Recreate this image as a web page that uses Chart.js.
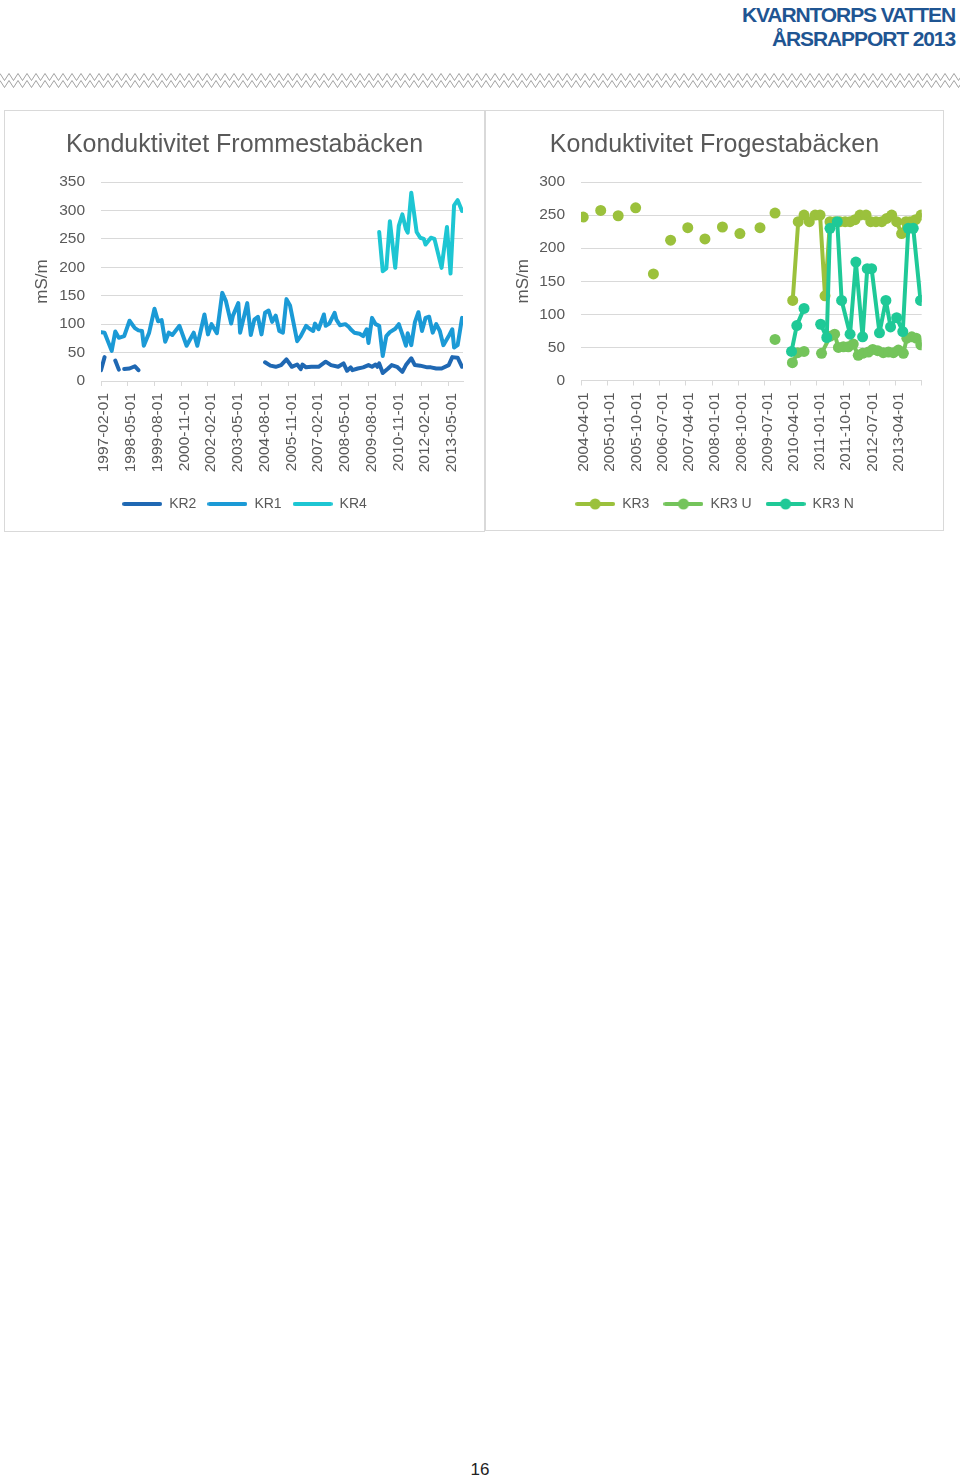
<!DOCTYPE html>
<html><head><meta charset="utf-8">
<script src="https://cdn.jsdelivr.net/npm/chart.js@4.4.0/dist/chart.umd.min.js"></script>
<style>
html,body{margin:0;padding:0;background:#fff;}
body{width:960px;height:1478px;position:relative;overflow:hidden;font-family:"Liberation Sans",Arial,sans-serif;}
.hdr{position:absolute;right:5px;color:#1f5592;font-weight:bold;font-size:21px;letter-spacing:-1.1px;line-height:24px;text-align:right;white-space:nowrap;}
.box{position:absolute;border:1px solid #d9d9d9;box-sizing:border-box;}
canvas{position:absolute;}
</style></head><body>
<div class="hdr" style="top:3px">KVARNTORPS VATTEN</div>
<div class="hdr" style="top:27px">ÅRSRAPPORT 2013</div>
<svg id="zz" style="position:absolute;left:0;top:72px" width="960" height="18"></svg>
<div class="box" style="left:4px;top:110px;width:481px;height:422px"></div>
<div class="box" style="left:485px;top:110px;width:459px;height:421px"></div>
<canvas id="c1" width="477" height="419" style="left:6px;top:111px"></canvas>
<canvas id="c2" width="455" height="419" style="left:487px;top:111px"></canvas>
<div style="position:absolute;left:0;width:960px;top:1460px;line-height:20px;text-align:center;font-size:17px;color:#222">16</div>
<script>
// ---------- Chart 1: Konduktivitet Frommestabäcken ----------
const frommTickLabels = ['1997-02-01','1998-05-01','1999-08-01','2000-11-01','2002-02-01','2003-05-01','2004-08-01','2005-11-01','2007-02-01','2008-05-01','2009-08-01','2010-11-01','2012-02-01','2013-05-01'];
const frommSeriesNames = ['KR2','KR1','KR4'];

const kr2Dates = ['1997-02','1997-04','1997-07','1997-10','1997-12','1998-01','1998-03','1998-06','1998-09','1998-11','2000-01',
'2004-10','2005-01','2005-04','2005-07','2005-10','2006-01','2006-04','2006-06','2006-07','2006-09',
'2006-12','2007-04','2007-08','2007-11','2008-03','2008-06','2008-08','2008-10','2008-11','2009-02',
'2009-05','2009-08','2009-10','2009-12','2010-01','2010-02','2010-04','2010-07','2010-09','2010-12',
'2011-03','2011-05','2011-08','2011-10','2012-01','2012-05','2012-07','2012-10','2013-01','2013-05',
'2013-07','2013-10','2013-12-15'];
const kr2Values = [19,42,null,36,20,null,21,22,26,19,null,
33,27,25,28,38,25,29,21,29,24,
25,25,34,28,25,31,18,24,19,22,
24,28,25,29,25,31,14,22,28,25,
16,28,40,28,27,24,24,22,22,28,
42,41,25];

const kr1Dates = ['1997-02','1997-04','1997-08','1997-10','1997-12','1998-03','1998-06','1998-09','1998-11','1999-01',
'1999-02','1999-05','1999-08','1999-10','1999-12','2000-02','2000-04','2000-06','2000-10','2001-02',
'2001-06','2001-08','2001-12','2002-02','2002-04','2002-07','2002-10','2002-12','2003-03','2003-04',
'2003-07','2003-08','2003-12','2004-02','2004-04','2004-06','2004-08','2004-10','2004-12','2005-02',
'2005-04','2005-06','2005-08','2005-10','2005-12','2006-04','2006-06','2006-09','2006-11','2007-01',
'2007-02','2007-04','2007-07','2007-08','2007-10','2008-01','2008-02','2008-04','2008-07','2008-09',
'2008-10','2008-12','2009-03','2009-05','2009-07','2009-08','2009-10','2009-12','2010-02','2010-04',
'2010-06','2010-08','2010-11','2011-01','2011-03','2011-05','2011-06','2011-08','2011-10','2011-12',
'2012-02','2012-04','2012-06','2012-08','2012-10','2012-12','2013-02','2013-05','2013-07','2013-08',
'2013-10','2013-12-15'];
const kr1Values = [86,85,53,87,76,79,106,93,89,88,
62,85,127,105,107,69,85,81,97,62,
85,62,117,82,100,84,155,141,101,115,
137,85,137,81,108,113,82,120,124,104,
115,88,85,144,133,70,79,97,92,88,
101,91,117,97,101,120,108,98,100,95,
91,85,83,79,91,67,111,100,97,44,
79,86,92,100,82,62,84,63,103,121,
88,111,113,85,100,88,63,79,91,59,
63,111];

const kr4Dates = ['2010-02','2010-04','2010-06','2010-08','2010-11','2011-01','2011-03','2011-05','2011-06','2011-08',
'2011-11','2012-01','2012-03','2012-04','2012-07','2012-09','2013-01','2013-04','2013-06','2013-08',
'2013-10','2013-12-15'];
const kr4Values = [262,193,198,281,199,273,293,267,261,331,
262,252,250,240,252,250,199,271,189,309,
318,299];

// ---------- Chart 2: Konduktivitet Frogestabäcken ----------
const frogTickLabels = ['2004-04-01','2005-01-01','2005-10-01','2006-07-01','2007-04-01','2008-01-01','2008-10-01','2009-07-01','2010-04-01','2011-01-01','2011-10-01','2012-07-01','2013-04-01'];
const frogSeriesNames = ['KR3','KR3 U','KR3 N'];

const kr3Dates = ['2004-04-24','2004-07-15','2004-10-24','2005-01-15','2005-04-24','2005-07-15','2005-10-24','2006-01-15','2006-04-27','2006-07-15','2006-10-24','2007-01-15','2007-04-21','2007-07-15','2007-10-18','2008-01-15','2008-04-18','2008-07-15','2008-10-18','2009-01-15','2009-05-15','2009-08-01','2009-10-20','2010-01-15',
'2010-04-22','2010-06-19','2010-08-19','2010-10-13','2010-12-13','2011-02-04','2011-03-25','2011-05-16','2011-07-07','2011-08-28','2011-10-22','2011-12-13','2012-02-04','2012-03-25','2012-05-28','2012-07-16','2012-09-10','2012-11-10','2013-01-01','2013-02-22','2013-04-13','2013-06-04','2013-07-19','2013-09-01','2013-10-28','2013-12-25'];
const kr3Values = [247,null,257,null,249,null,261,null,161,null,212,null,231,null,214,null,232,null,222,null,231,null,253,null,
121,240,250,240,250,250,128,240,240,240,240,240,243,250,250,240,240,240,245,250,240,222,240,240,243,250];

const kr3UDates = ['2009-10-20','2010-01-15','2010-04-19','2010-06-13','2010-08-19','2010-11-01','2011-02-19','2011-05-19','2011-07-04','2011-08-13','2011-10-04','2011-11-25','2012-01-16','2012-03-07','2012-04-22','2012-06-22','2012-08-07','2012-09-28','2012-11-25','2013-01-19','2013-03-10','2013-05-01','2013-06-22','2013-07-28','2013-09-19','2013-11-04','2013-12-22'];
const kr3UValues = [62,null,27,42,44,null,41,67,70,50,51,51,55,38,41,43,47,45,42,43,42,46,41,64,66,64,54];

const kr3NDates = ['2010-04-10','2010-06-04','2010-08-19','2010-11-01','2011-02-10','2011-04-13','2011-05-16','2011-08-01','2011-09-16','2011-12-13','2012-02-13','2012-04-22','2012-06-10','2012-07-25','2012-10-16','2012-12-22','2013-02-10','2013-04-13','2013-06-16','2013-08-13','2013-10-04','2013-12-19'];
const kr3NValues = [44,83,109,null,85,65,230,240,121,70,179,66,169,169,72,121,81,95,74,230,230,121];

// ---------- helpers ----------
const FONT = '"Liberation Sans", Arial, sans-serif';
const GREY = '#595959';
const GRID = '#d9d9d9';

function monthsSince(dateStr, originStr) {
  const a = dateStr.split('-').map(Number), o = originStr.split('-').map(Number);
  const d = a[2] || 1, od = o[2] || 1;
  return (a[0] - o[0]) * 12 + (a[1] - o[1]) + (d - od) / 30;
}

function legendIcon(color, dot) {
  const c = document.createElement('canvas');
  c.width = 40; c.height = 12;
  const x = c.getContext('2d');
  x.strokeStyle = color; x.lineWidth = 4; x.lineCap = 'round';
  x.beginPath(); x.moveTo(2, 6); x.lineTo(38, 6); x.stroke();
  if (dot) { x.fillStyle = color; x.beginPath(); x.arc(20, 6, 5.5, 0, Math.PI * 2); x.fill(); }
  return c;
}

// zigzag rule under header
(function () {
  const svg = document.getElementById('zz');
  let a = [], b = [];
  for (let x = 0, k = 0; x <= 965; x += 4.5, k++) {
    a.push(x.toFixed(1) + ',' + (k % 2 ? 8.5 : 1.5));
    b.push(x.toFixed(1) + ',' + (k % 2 ? 15.5 : 8.5));
  }
  svg.innerHTML = '<polyline points="' + a.join(' ') + '" fill="none" stroke="#8a8a8a" stroke-width="0.8"/>' +
                  '<polyline points="' + b.join(' ') + '" fill="none" stroke="#8a8a8a" stroke-width="0.8"/>';
})();

function buildChart(canvasId, p) {
  const toX = d => monthsSince(d, p.origin);
  const icons = [];
  const datasets = p.series.map((s, i) => {
    icons.push(legendIcon(s.color, p.points));
    return {
      label: s.name,
      data: s.dates.map((d, j) => ({ x: toX(d), y: s.values[j] })),
      borderColor: s.color,
      backgroundColor: s.color,
      borderWidth: 4,
      pointRadius: p.points ? 5.5 : 0,
      pointHoverRadius: p.points ? 5.5 : 0,
      pointBorderWidth: 0,
      pointBackgroundColor: s.color,
      tension: 0,
      spanGaps: false,
      borderJoinStyle: 'round',
      borderCapStyle: 'round',
      order: p.series.length - i
    };
  });
  const tickVals = p.tickLabels.map(toX);
  const tickText = p.tickLabels.slice();
  if (p.extraTick) { tickVals.push(toX(p.extraTick)); tickText.push(''); }
  return new Chart(document.getElementById(canvasId), {
    type: 'line',
    data: { datasets },
    options: {
      responsive: false, animation: false, devicePixelRatio: 1, events: [],
      layout: { padding: { left: 0, right: 0, top: 0, bottom: 9 } },
      plugins: {
        title: { display: true, text: p.title, color: GREY,
                 font: { family: FONT, size: 25, weight: 'normal' },
                 padding: { top: 19.5, bottom: 21.5 } },
        legend: { display: true, position: 'bottom',
          labels: { usePointStyle: true, pointStyleWidth: 40, color: GREY,
                    font: { family: FONT, size: 14 }, padding: p.legendPad,
                    generateLabels: (chart) => {
                      const items = Chart.defaults.plugins.legend.labels.generateLabels(chart);
                      items.sort((a, b) => a.datasetIndex - b.datasetIndex);
                      items.forEach(it => { it.pointStyle = icons[it.datasetIndex]; it.lineWidth = 0; });
                      return items;
                    } } },
        tooltip: { enabled: false }
      },
      scales: {
        x: {
          type: 'linear', bounds: 'data', min: 0, max: toX(p.end),
          grid: { display: true, drawOnChartArea: false, drawTicks: true, tickLength: 5, color: GRID },
          border: { display: true, color: GRID, width: 1 },
          ticks: { autoSkip: false, maxRotation: 90, minRotation: 90, padding: 7, labelOffset: 3, color: GREY,
                   font: { family: FONT, size: 15.5 },
                   callback: (v, i) => (tickText[i] !== undefined ? tickText[i] : '') },
          afterBuildTicks: (scale) => { scale.ticks = tickVals.map(v => ({ value: v })); },
          afterFit: (scale) => { scale.height = p.xAxisHeight; scale.paddingRight = p.rightPad; scale.paddingLeft = 0; }
        },
        y: {
          bounds: 'data', min: 0, max: p.yMax,
          ticks: { stepSize: 50, padding: 16, color: GREY, font: { family: FONT, size: 15.5 } },
          grid: { color: GRID, drawTicks: false },
          border: { display: false },
          title: { display: true, text: 'mS/m', color: GREY, font: { family: FONT, size: 17 },
                   padding: { top: 26, bottom: 0 } },
          afterFit: (scale) => { scale.width = p.yAxisWidth; }
        }
      }
    }
  });
}

buildChart('c1', {
  title: 'Konduktivitet Frommestabäcken',
  origin: '1997-02-01', end: '2014-01-01',
  tickLabels: frommTickLabels,
  yMax: 350, points: false, legendPad: 11,
  xAxisHeight: 105, rightPad: 20, yAxisWidth: 95,
  series: [
    { name: frommSeriesNames[0], dates: kr2Dates, values: kr2Values, color: '#1f68b3' },
    { name: frommSeriesNames[1], dates: kr1Dates, values: kr1Values, color: '#1b9ad6' },
    { name: frommSeriesNames[2], dates: kr4Dates, values: kr4Values, color: '#1dc6d3' }
  ]
});

buildChart('c2', {
  title: 'Konduktivitet Frogestabäcken',
  origin: '2004-04-01', end: '2014-01-01', extraTick: '2014-01-01',
  tickLabels: frogTickLabels,
  yMax: 300, points: true, legendPad: 14,
  xAxisHeight: 102.5, rightPad: 20.3, yAxisWidth: 94,
  series: [
    { name: frogSeriesNames[0], dates: kr3Dates, values: kr3Values, color: '#9bc13c' },
    { name: frogSeriesNames[1], dates: kr3UDates, values: kr3UValues, color: '#74c45b' },
    { name: frogSeriesNames[2], dates: kr3NDates, values: kr3NValues, color: '#1fc997' }
  ]
});
</script>
</body></html>
